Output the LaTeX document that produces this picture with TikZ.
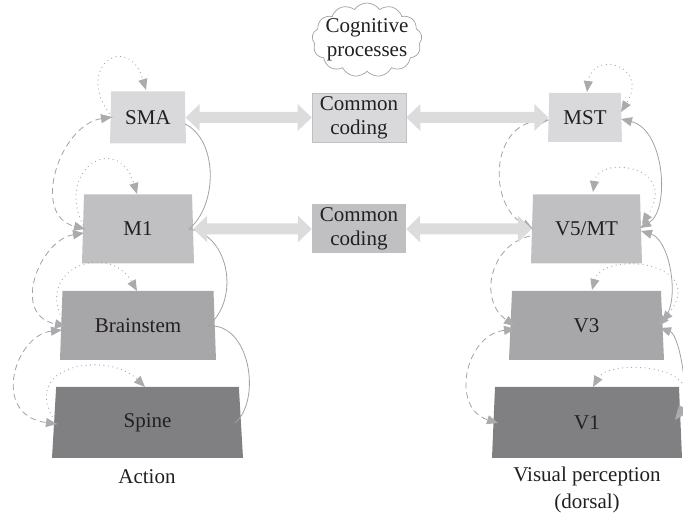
\documentclass[tikz,border=0pt]{standalone}
\usepackage{fontspec}
\setmainfont{Liberation Serif}
\usetikzlibrary{shapes.geometric,shapes.symbols,arrows.meta}
\definecolor{txt}{HTML}{231F20}
\definecolor{lvA}{HTML}{D9D9DB}
\definecolor{lvB}{HTML}{C0C0C2}
\definecolor{lvC}{HTML}{A7A7A9}
\definecolor{lvD}{HTML}{808082}
\definecolor{bigarr}{HTML}{DCDCDD}
\definecolor{thin}{HTML}{A2A2A4}
\definecolor{tipc}{HTML}{ABABAD}
\tikzset{tp/.tip={Triangle[length=11pt,width=9pt,color=tipc]}}
\begin{document}
\begin{tikzpicture}[x=1pt,y=-1pt,
  font=\fontsize{21}{24}\selectfont,
  trap/.style={trapezium, trapezium stretches body, inner sep=0pt, draw=none, text=txt},
  ccbox/.style={rectangle, inner sep=0pt, minimum width=94pt, minimum height=49pt, align=center, text=txt},
  bigarrow/.style={draw=bigarr, line width=11pt, {Triangle[length=14pt,width=26pt]}-{Triangle[length=14pt,width=26pt]}},
  solidc/.style={draw=thin, line width=0.8pt},
  dashc/.style={draw=thin, line width=0.8pt, dash pattern=on 6pt off 4pt},
  dotc/.style={draw=thin, line width=1.2pt, dash pattern=on 0pt off 4.5pt, line cap=round},
  lbl/.style={text=txt, inner sep=0pt}
]
\useasboundingbox (0,0) rectangle (683,518);

% left column
\node[trap, fill=lvA, trapezium left angle=85, trapezium right angle=85, minimum width=76pt, minimum height=52pt] (SMA) at (148,117.5) {SMA};
\node[trap, fill=lvB, trapezium left angle=82, trapezium right angle=82, minimum width=112pt, minimum height=69pt] (M1) at (138,229) {M1};
\node[trap, fill=lvC, trapezium left angle=80, trapezium right angle=80, minimum width=156pt, minimum height=69pt] (BS) at (138,325.5) {Brainstem};
\node[trap, fill=lvD, trapezium left angle=77.3, trapezium right angle=77.3, minimum width=191pt, minimum height=71pt] (SP) at (147.5,422.5) {Spine};
\node[lbl] (act) at (147,477) {Action};

% right column
\node[trap, fill=lvA, trapezium left angle=85, trapezium right angle=85, minimum width=74pt, minimum height=49pt] (MST) at (585,117.5) {MST};
\node[trap, fill=lvB, trapezium left angle=82, trapezium right angle=82, minimum width=111pt, minimum height=69pt] (V5) at (586.5,229) {V5/MT};
\node[trap, fill=lvC, trapezium left angle=78, trapezium right angle=78, minimum width=155pt, minimum height=69pt] (V3) at (586.5,325.5) {V3};
\node[trap, fill=lvD, trapezium left angle=78, trapezium right angle=78, minimum width=190pt, minimum height=71pt] (V1) at (587,422.5) {V1};
\node[lbl, align=center, font=\fontsize{21}{27}\selectfont] (vis) at (587,490) {Visual perception\\(dorsal)};

% middle
\node[ccbox, fill=lvA, draw=lvB, line width=0.6pt] (CC1) at (359,117.5) {Common\\coding};
\node[ccbox, fill=lvB] (CC2) at (359,229) {Common\\coding};
\node[cloud, cloud puffs=13, cloud puff arc=110, cloud ignores aspect, minimum width=110pt, minimum height=74pt, draw=thin, line width=0.7pt, fill=white, inner sep=-4pt, align=center, text=txt, font=\fontsize{21}{24}\selectfont] (cog) at (367,40) {Cognitive\\processes};

% left solid curves
\coordinate (sma-r) at (185,124);
\coordinate (m1-r) at (189,229);
\coordinate (bs-r) at (208,326);
\coordinate (sp-r) at (235,423);
\draw[solidc] (sma-r) .. controls (218,140) and (218,205) .. (m1-r);
\draw[solidc] (m1-r) .. controls (230,235) and (240,300) .. (bs-r);
\draw[solidc] (bs-r) .. controls (250,322) and (262,400) .. (sp-r);

% left dashed curves
\coordinate (sma-l) at (112,117);
\coordinate (m1-l) at (85,229);
\coordinate (m1-l2) at (84,233);
\coordinate (bs-l) at (66,326);
\coordinate (bs-l2) at (62,330);
\coordinate (sp-l) at (57,424);
\draw[dashc, tp-tp] (sma-l) .. controls (60,125) and (30,215) .. (m1-l);
\draw[dashc, tp-tp] (m1-l2) .. controls (40,240) and (10,315) .. (bs-l);
\draw[dashc, tp-tp] (bs-l2) .. controls (15,335) and (-10,415) .. (sp-l);

% left dotted loops
\coordinate (sma-t) at (146,90);
\coordinate (m1-t) at (137,194);
\coordinate (bs-t) at (137,291);
\coordinate (sp-t) at (145,387);
\draw[dotc, -tp] (sma-l) .. controls (72,68) and (128,30) .. (sma-t);
\draw[dotc, -tp] (m1-l) .. controls (52,170) and (118,130) .. (m1-t);
\draw[dotc, -tp] (bs-l) .. controls (30,270) and (108,240) .. (bs-t);
\draw[dotc, -tp] (sp-l) .. controls (15,365) and (108,350) .. (sp-t);

% right solid curves
\coordinate (mst-r) at (621,119);
\coordinate (v5-r) at (640,228);
\coordinate (v5-r2) at (641,231);
\coordinate (v3-r) at (658,326);
\coordinate (v3-r2) at (660,328);
\coordinate (v1-r) at (675,420);
\draw[solidc, tp-tp] (mst-r) .. controls (665,130) and (670,210) .. (v5-r);
\draw[solidc, tp-tp] (v5-r2) .. controls (670,240) and (680,300) .. (v3-r);
\draw[solidc, tp-tp] (v3-r2) .. controls (680,335) and (690,400) .. (v1-r);

% right dotted loops
\coordinate (mst-t) at (587,92);
\coordinate (mst-r2) at (621,112);
\coordinate (v5-t) at (593,192);
\coordinate (v5-r3) at (642,224);
\coordinate (v3-t) at (592,290);
\coordinate (v3-r3) at (662,322);
\coordinate (v1-t) at (593,387);
\coordinate (v1-r3) at (678,417);
\draw[dotc, tp-tp] (mst-t) .. controls (592,50) and (650,65) .. (mst-r2);
\draw[dotc, tp-tp] (v5-t) .. controls (598,155) and (680,165) .. (v5-r3);
\draw[dotc, tp-tp] (v3-t) .. controls (603,250) and (710,262) .. (v3-r3);
\draw[dotc, tp-tp] (v1-t) .. controls (608,360) and (705,362) .. (v1-r3);

% right dashed curves
\coordinate (mst-l) at (549,120);
\coordinate (v5-l) at (533,229);
\coordinate (v5-l2) at (530,236);
\coordinate (v3-l) at (515,326);
\coordinate (v3-l2) at (515,329);
\coordinate (v1-l) at (498,423);
\draw[dashc, tp-tp] (mst-l) .. controls (490,125) and (488,205) .. (v5-l);
\draw[dashc, -tp] (v5-l2) .. controls (490,245) and (478,300) .. (v3-l);
\draw[dashc, tp-tp] (v3-l2) .. controls (465,335) and (450,408) .. (v1-l);

% thick double arrows
\draw[bigarrow] (SMA.east) -- (CC1.west);
\draw[bigarrow] (CC1.east) -- (MST.west);
\draw[bigarrow] (M1.east) -- (CC2.west);
\draw[bigarrow] (CC2.east) -- (V5.west);
\end{tikzpicture}
\end{document}
